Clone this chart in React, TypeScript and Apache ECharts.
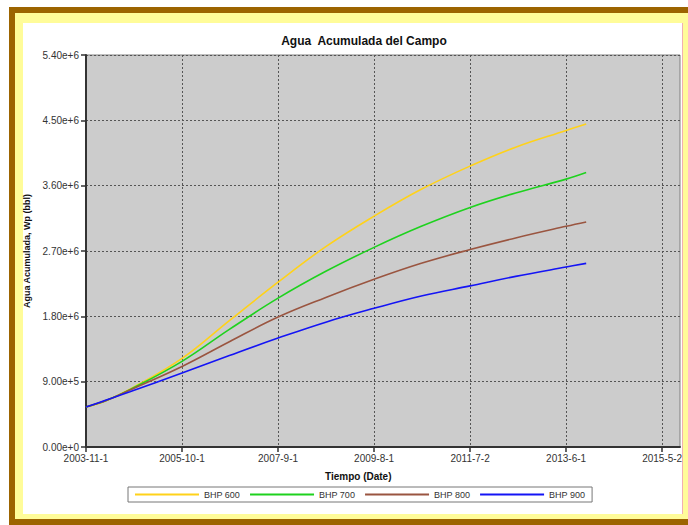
import React, { useEffect, useRef } from "react";
import * as echarts from "echarts";

const dates = [
  "2003-11-01", "2004-04-01", "2004-09-16", "2005-10-01", "2006-09-11", "2007-09-01",
  "2008-08-14", "2009-08-01", "2010-07-11", "2011-07-02", "2012-05-29", "2013-06-01", "2013-10-25",
];
const bhp600 = [0.55, 0.645, 0.795, 1.22, 1.74, 2.27, 2.76, 3.18, 3.55, 3.87, 4.13, 4.36, 4.45];
const bhp700 = [0.55, 0.645, 0.79, 1.18, 1.62, 2.05, 2.42, 2.75, 3.04, 3.30, 3.50, 3.69, 3.78];
const bhp800 = [0.55, 0.645, 0.785, 1.11, 1.45, 1.79, 2.06, 2.31, 2.53, 2.72, 2.88, 3.04, 3.10];
const bhp900 = [0.55, 0.65, 0.76, 1.02, 1.26, 1.50, 1.72, 1.91, 2.08, 2.22, 2.35, 2.48, 2.53];
const seriesNames = ["BHP 600", "BHP 700", "BHP 800", "BHP 900"];
const seriesColors = ["#FFD21A", "#1ED21E", "#9A5540", "#1414F5"];
const xTickDays = [0, 700, 1400, 2100, 2800, 3500, 4200];
const yTicks = [0, 0.9e6, 1.8e6, 2.7e6, 3.6e6, 4.5e6, 5.4e6];

const START = Date.UTC(2003, 10, 1);
const DAY = 86400000;
const toDays = (s: string) => {
  const [y, m, d] = s.split("-").map(Number);
  return Math.round((Date.UTC(y, m - 1, d) - START) / DAY);
};
const dayLabel = (v: number) => {
  const dt = new Date(START + v * DAY);
  return `${dt.getUTCFullYear()}-${dt.getUTCMonth() + 1}-${dt.getUTCDate()}`;
};

const FONT = "'Liberation Sans', Arial, sans-serif";

export default function App() {
  const ref = useRef<HTMLDivElement>(null);
  useEffect(() => {
    if (!ref.current) return;
    const chart = echarts.init(ref.current, null, { renderer: "svg" });
    const all = [bhp600, bhp700, bhp800, bhp900];
    const xs = dates.map(toDays);
    chart.setOption({
      animation: false,
      textStyle: { fontFamily: FONT },
      title: {
        text: "Agua  Acumulada del Campo",
        left: 359,
        top: 30,
        textAlign: "center",
        textStyle: { fontSize: 12, fontWeight: "bold", color: "#111", fontFamily: FONT },
      },
      grid: {
        left: 86, right: 8, top: 55, bottom: 78, containLabel: false,
        show: true, backgroundColor: "#cccccc", borderColor: "#808080", borderWidth: 1,
      },
      legend: {
        left: 128, top: 487,
        icon: "rect", itemWidth: 64, itemHeight: 2, itemGap: 10,
        padding: [3, 7],
        borderColor: "#777", borderWidth: 1,
        textStyle: { fontSize: 9, color: "#333", fontFamily: FONT },
        data: seriesNames,
      },
      graphic: [
        {
          type: "text", left: 359 - 34, top: 471,
          style: { text: "Tiempo (Date)", font: `bold 10px ${FONT}`, fill: "#111" },
        },
      ],
      xAxis: {
        type: "value", min: 0, max: 4330, interval: 700,
        axisLine: { show: true, lineStyle: { color: "#333", width: 2 } },
        axisTick: { show: true, length: 5, lineStyle: { color: "#333", width: 1.5 }, customValues: xTickDays },
        axisLabel: {
          color: "#333", fontSize: 10, margin: 6, fontFamily: FONT,
          customValues: xTickDays,
          formatter: (v: number) => (v % 700 === 0 ? dayLabel(v) : ""),
        },
        splitLine: { show: true, lineStyle: { color: "#555", type: [2, 2], width: 1 } },
      },
      yAxis: {
        type: "value", min: 0, max: 5.4e6, interval: 0.9e6,
        name: "Agua Acumulada, Wp (bbl)", nameLocation: "middle", nameGap: 48,
        nameTextStyle: { fontSize: 9, fontWeight: "bold", color: "#111", fontFamily: FONT },
        axisLine: { show: true, lineStyle: { color: "#333", width: 2 } },
        axisTick: { show: true, length: 5, lineStyle: { color: "#333", width: 1.5 } },
        axisLabel: {
          color: "#333", fontSize: 10, margin: 7, fontFamily: FONT,
          customValues: yTicks,
          formatter: (v: number) => v.toExponential(2),
        },
        splitLine: { show: true, lineStyle: { color: "#555", type: [2, 2], width: 1 } },
      },
      series: seriesNames.map((name, i) => ({
        name, type: "line", showSymbol: false, smooth: 0.4,
        lineStyle: { color: seriesColors[i], width: 1.6 },
        itemStyle: { color: seriesColors[i] },
        data: xs.map((x, j) => [x, all[i][j] * 1e6]),
      })),
    });
    return () => chart.dispose();
  }, []);

  return (
    <div style={{ position: "fixed", left: 0, top: 0, width: 688, height: 525, background: "#fff", overflow: "hidden" }}>
      <div style={{ position: "absolute", left: 9, top: 7, width: 700, height: 518, background: "#9C6400" }} />
      <div style={{ position: "absolute", left: 15, top: 13, width: 700, height: 506, background: "#FFFC99" }} />
      <div style={{ position: "absolute", left: 23, top: 23, width: 659, height: 491, background: "#fff", borderRight: "1px solid #F2B0B0" }} />
      <div ref={ref} style={{ position: "absolute", left: 0, top: 0, width: 688, height: 525 }} />
    </div>
  );
}
